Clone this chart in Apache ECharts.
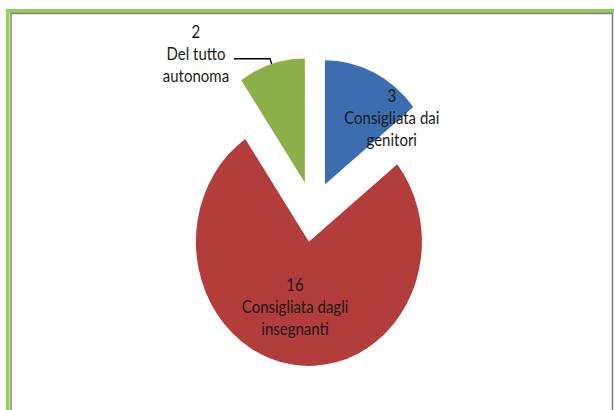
<!DOCTYPE html>
<html>
<head>
<meta charset="utf-8">
<script src="https://cdn.jsdelivr.net/npm/echarts@6/dist/echarts.min.js"></script>
<style>
html, body { margin: 0; padding: 0; background: #fff; }
body { width: 614px; height: 410px; overflow: visible; }
/* il grafico originale e' un po' allungato in verticale */
#chart { width: 614px; height: 373px; transform: scale(1, 1.1); transform-origin: 0 0; }
</style>
</head>
<body>
<div id="chart"></div>
<script>
var categorie = ['Consigliata dai\ngenitori', 'Consigliata dagli\ninsegnanti', 'Del tutto\nautonoma'];
var valori = [3, 16, 2];
var colori = ['#3d6db1', '#b33d3a', '#8bb04a'];

var dati = [];
for (var i = 0; i < categorie.length; i++) {
	dati.push({
		name: categorie[i],
		value: valori[i],
		selected: true,
		itemStyle: { color: colori[i] }
	});
}
// etichetta esterna per l'ultima fetta, righe centrate
dati[2].label = {
	position: 'outside',
	formatter: '{a|{c}\n{b}}',
	padding: [0, 0, 10, 0],
	rich: { a: { align: 'center', fontSize: 15, lineHeight: 20, color: '#1a1a1a', fontFamily: 'Lato, "Liberation Sans", sans-serif' } }
};
dati[2].labelLine = { show: true, length: 5, length2: 36, lineStyle: { color: '#000', width: 1.3 } };

var chart = echarts.init(document.getElementById('chart'), null, { renderer: 'svg' });

var option = {
	backgroundColor: '#fff',
	animation: false,
	graphic: [
		{ type: 'rect', shape: { x: 6, y: 8.2, width: 608, height: 3.3 }, style: { fill: '#92d050' } },
		{ type: 'rect', shape: { x: 6, y: 8.2, width: 3.5, height: 370 }, style: { fill: '#92d050' } },
		{ type: 'rect', shape: { x: 11, y: 12.2, width: 601.5, height: 400 }, style: { fill: 'none', stroke: '#808080', lineWidth: 1.5 } }
	],
	series: [
		{
			type: 'pie',
			center: [313, 192.5],
			radius: [0, 113],
			startAngle: 90,
			selectedMode: 'multiple',
			selectedOffset: 27.5,
			emphasis: { disabled: true },
			label: {
				show: true,
				position: 'inside',
				formatter: '{c}\n{b}',
				color: '#1a1a1a',
				fontFamily: 'Lato, "Liberation Sans", sans-serif',
				fontSize: 15,
				lineHeight: 20
			},
			labelLine: { show: false },
			labelLayout: function (p) {
				if (p.dataIndex == 0) return { dx: 41, dy: -7.5 };
				if (p.dataIndex == 1) return { dx: -5, dy: 0 };
				return {};
			},
			data: dati
		}
	]
};

chart.setOption(option);
</script>
</body>
</html>
